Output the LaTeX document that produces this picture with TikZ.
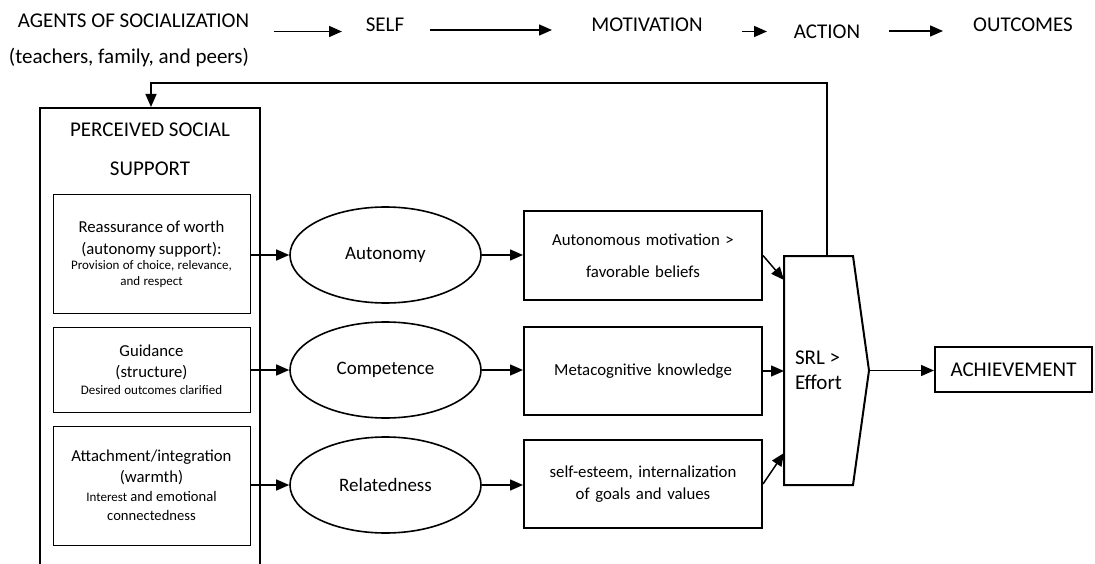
\documentclass[tikz,border=0pt]{standalone}
\usepackage{fontspec}
\setmainfont{Carlito}
\usetikzlibrary{arrows.meta,shapes.geometric}
\begin{document}
\begin{tikzpicture}[x=1pt,y=-1pt,
  arr/.style={-{Triangle[length=13pt,width=11pt]},line width=1.5pt},
  lbl/.style={inner sep=0pt,anchor=base,font=\fontsize{21}{25}\selectfont},
  inbox/.style={draw,line width=1pt,minimum width=197pt,inner sep=0pt,text width=195pt,align=center},
  ell/.style={ellipse,draw,line width=1.6pt,minimum width=191pt,minimum height=96pt,inner sep=0pt,font=\fontsize{19}{23}\selectfont},
  midbox/.style={draw,line width=2pt,minimum width=238pt,minimum height=88pt,inner sep=0pt,text width=236pt,align=center},
]
\useasboundingbox (0,0) rectangle (1095,564);
\clip (0,0) rectangle (1095,564);

% top row
\node[lbl] (agents) at (133.5,28) {AGENTS OF SOCIALIZATION};
\node[lbl] (peers) at (129,64) {(teachers, family, and peers)};
\node[lbl] (self) at (385,31.5) {SELF};
\node[lbl] (motiv) at (647,31.5) {MOTIVATION};
\node[lbl] (action) at (827,39) {ACTION};
\node[lbl] (outc) at (1023,31.5) {OUTCOMES};
\coordinate (t1a) at (274,31.5); \coordinate (t1b) at (342,31.5);
\coordinate (t2a) at (430,30);   \coordinate (t2b) at (552,30);
\coordinate (t3a) at (742,31.5); \coordinate (t3b) at (767,31.5);
\coordinate (t4a) at (889,31);   \coordinate (t4b) at (943,31);
\draw[arr] (t1a) -- (t1b);
\draw[arr] (t2a) -- (t2b);
\draw[arr] (t3a) -- (t3b);
\draw[arr] (t4a) -- (t4b);

% outer box
\node[draw,line width=2pt,minimum width=220pt,minimum height=492pt,inner sep=0pt] (outer) at (150,354) {};
\node[inner sep=0pt,align=center,font=\fontsize{21}{39}\selectfont] (pss) at (150,149.5) {PERCEIVED SOCIAL\\SUPPORT};

% inner boxes
\node[inbox,minimum height=118pt] (g1) at (151.5,254) {{\fontsize{16.7}{22}\selectfont Reassurance of worth\\(autonomy support):\par}{\fontsize{13}{15.5}\selectfont Provision of choice, relevance,\\and respect\par}};
\node[inbox,minimum height=85pt] (g2) at (151.5,369.5) {{\fontsize{16.7}{21}\selectfont Guidance\\(structure)\par}{\fontsize{13}{17.5}\selectfont Desired outcomes clarified\par}};
\node[inbox,minimum height=119pt] (g3) at (151.5,485.5) {{\fontsize{16.7}{21}\selectfont Attachment/integration\\(warmth)\par}{\fontsize{14.6}{19}\selectfont {\fontsize{13}{19}\selectfont Interest} and emotional\\connectedness\par}};

% ellipses
\node[ell] (aut) at (385.5,255) {Autonomy};
\node[ell] (comp) at (385.5,370) {Competence};
\node[ell] (rel) at (385.5,485) {Relatedness};

% middle boxes
\node[midbox,minimum height=89pt,font=\fontsize{16.8}{32}\selectfont] (m1) at (643,255.5) {Autonomous motivation >\\favorable beliefs};
\node[midbox,font=\fontsize{16.8}{22}\selectfont] (m2) at (643,371) {Metacognitive knowledge};
\node[midbox,font=\fontsize{16.8}{22}\selectfont] (m3) at (643,484) {self-esteem, internalization\\of goals and values};

% SRL
\node[minimum width=69pt,minimum height=229pt,inner sep=0pt,outer sep=0pt,align=left,font=\fontsize{21}{25}\selectfont] (srl) at (818.5,370.5) {SRL >\\Effort};
\coordinate (srltip) at (869,370.5);
\draw[line width=2pt] (srl.north west) -- (srl.north east) -- (srltip) -- (srl.south east) -- (srl.south west) -- cycle;

% achievement
\node[draw,line width=2pt,minimum width=157pt,minimum height=45pt,inner sep=0pt,font=\fontsize{21}{25}\selectfont] (ach) at (1013.5,369.5) {ACHIEVEMENT};

% connectors
\draw[arr] (g1.east |- aut.west) -- (aut.west);
\draw[arr] (g2.east |- comp.west) -- (comp.west);
\draw[arr] (g3.east |- rel.west) -- (rel.west);
\draw[arr] (aut.east) -- (m1.west |- aut.east);
\draw[arr] (comp.east) -- (m2.west |- comp.east);
\draw[arr] (rel.east) -- (m3.west |- rel.east);
\draw[arr] (m1.east) -- ([yshift=90.5pt]srl.west);
\draw[arr] (m2.east) -- (srl.west |- m2.east);
\draw[arr] (m3.east) -- ([yshift=-82.5pt]srl.west);
\draw[arr] (srltip) -- (ach.west |- srltip);
\coordinate (fb) at (151,83);
\draw[arr] ([xshift=8.5pt]srl.north) |- (fb) -- (fb |- outer.north);
\end{tikzpicture}
\end{document}
